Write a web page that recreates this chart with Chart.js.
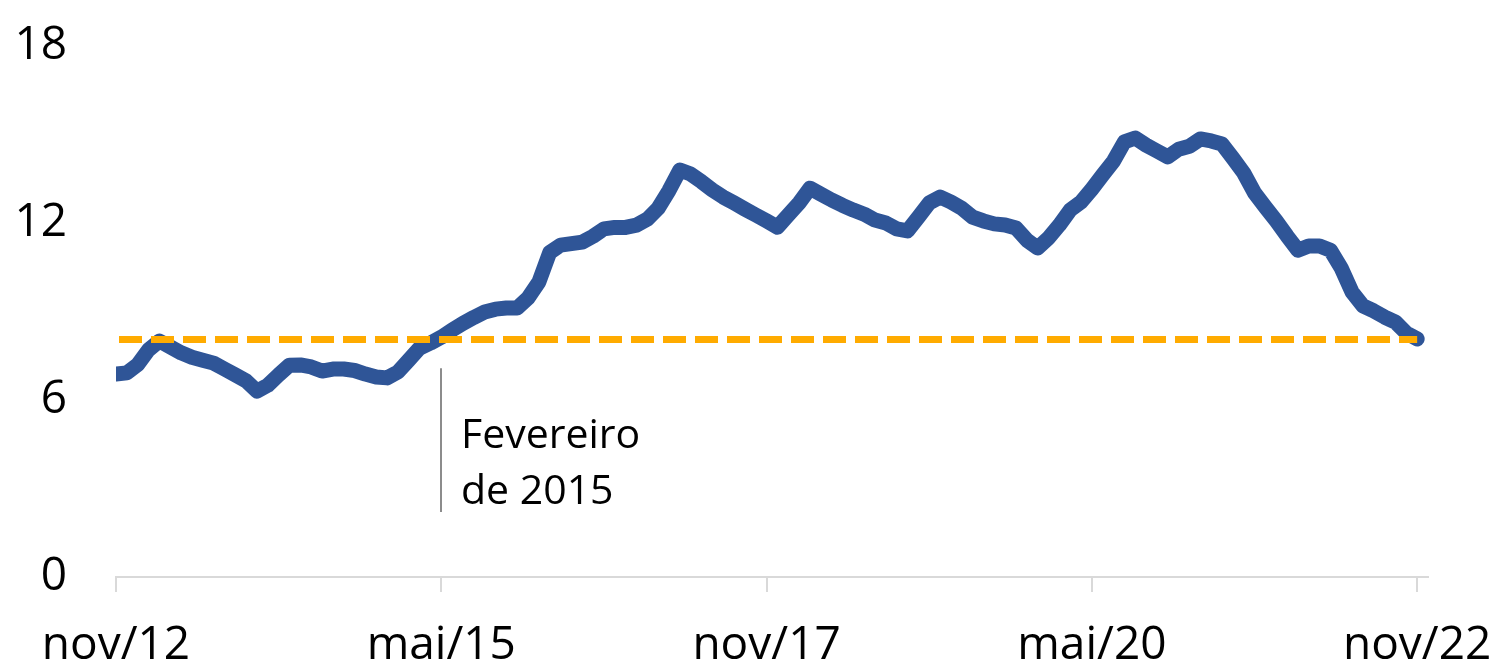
<!DOCTYPE html>
<html>
<head>
<meta charset="utf-8">
<script src="https://cdn.jsdelivr.net/npm/chart.js@4.4.1/dist/chart.umd.min.js"></script>
<style>
  html, body { margin: 0; padding: 0; background: #ffffff; }
  #wrap { width: 1497px; height: 668px; position: relative; }
</style>
</head>
<body>
<div id="wrap"><canvas id="c" width="1497" height="668"></canvas></div>
<script>
// Monthly series, nov/12 (index 0) to nov/22 (index 120)
const seriesValues = [
  6.88, 6.92, 7.2, 7.7, 8.0, 7.8, 7.6, 7.45, 7.35, 7.25,
  7.05, 6.85, 6.65, 6.3, 6.5, 6.85, 7.18, 7.19, 7.12, 6.98,
  7.05, 7.05, 7.0, 6.88, 6.78, 6.75, 6.95, 7.35, 7.76, 7.93,
  8.13, 8.37, 8.6, 8.8, 8.98, 9.08, 9.12, 9.12, 9.46, 10.0,
  11.0, 11.25, 11.3, 11.35, 11.55, 11.8, 11.85, 11.85, 11.93, 12.13,
  12.5, 13.1, 13.8, 13.66, 13.4, 13.12, 12.88, 12.68, 12.47, 12.27,
  12.07, 11.86, 12.27, 12.68, 13.18, 12.98, 12.78, 12.6, 12.44, 12.3,
  12.1, 12.0, 11.8, 11.73, 12.2, 12.68, 12.88, 12.71, 12.5, 12.2,
  12.07, 11.97, 11.93, 11.83, 11.42, 11.15, 11.49, 11.93, 12.44, 12.71,
  13.15, 13.63, 14.1, 14.75, 14.88, 14.64, 14.44, 14.24, 14.5, 14.6,
  14.85, 14.78, 14.68, 14.2, 13.7, 13.02, 12.54, 12.07, 11.56, 11.08,
  11.22, 11.22, 11.08, 10.47, 9.66, 9.19, 9.02, 8.81, 8.64, 8.27,
  8.07
];
const referenceLevel = 8.05;
const xTickLabels = ['nov/12', 'mai/15', 'nov/17', 'mai/20', 'nov/22'];
const xTickIndex = [0, 30, 60, 90, 120];
const yTicks = [0, 6, 12, 18];
const annotationIndex = 30;
const annotationRange = [2.2, 7.08];
const annotationLines = ['Fevereiro', 'de 2015'];
const annotationTextY = [4.78, 2.88];

const blueData = seriesValues.map((v, i) => ({ x: i, y: v }));
const orangeData = seriesValues.map((v, i) => ({ x: i, y: referenceLevel }));

const annotationPlugin = {
  id: 'annot',
  afterDatasetsDraw(chart) {
    const ctx = chart.ctx;
    const xs = chart.scales.x, ys = chart.scales.y;
    const px = Math.round(xs.getPixelForValue(annotationIndex));
    ctx.save();
    ctx.strokeStyle = '#8c8c8c';
    ctx.lineWidth = 2;
    ctx.beginPath();
    ctx.moveTo(px, ys.getPixelForValue(annotationRange[1]));
    ctx.lineTo(px, ys.getPixelForValue(annotationRange[0]));
    ctx.stroke();
    ctx.fillStyle = '#000000';
    ctx.font = '41px "Open Sans"';
    ctx.textAlign = 'left';
    ctx.textBaseline = 'middle';
    annotationLines.forEach((t, i) => {
      ctx.fillText(t, px + 20, ys.getPixelForValue(annotationTextY[i]));
    });
    ctx.restore();
  }
};

function zeroPad(s) {
  s.paddingLeft = 0; s.paddingRight = 0; s.paddingTop = 0; s.paddingBottom = 0;
}

new Chart(document.getElementById('c'), {
  type: 'line',
  data: {
    datasets: [
      {
        data: orangeData,
        borderColor: '#FFAB00',
        borderWidth: 7,
        borderDash: [23, 9],
        borderDashOffset: 29,
        borderCapStyle: 'butt',
        pointRadius: 0,
        tension: 0,
        order: 0
      },
      {
        data: blueData,
        borderColor: '#2F5597',
        borderWidth: 15,
        borderCapStyle: 'round',
        borderJoinStyle: 'round',
        pointRadius: 0,
        tension: 0,
        order: 1
      }
    ]
  },
  options: {
    responsive: false,
    animation: false,
    events: [],
    layout: { padding: { top: 46, right: 69, left: 0, bottom: 0 } },
    plugins: { legend: { display: false }, tooltip: { enabled: false } },
    scales: {
      x: {
        type: 'linear',
        min: 0,
        max: 121,
        afterFit(s) { s.height = 91; zeroPad(s); },
        afterBuildTicks(s) { s.ticks = xTickIndex.map(v => ({ value: v })); },
        border: { display: true, color: '#d9d9d9', width: 2 },
        grid: { display: true, drawOnChartArea: false, drawTicks: true, tickLength: 15, color: '#d9d9d9', lineWidth: 2 },
        ticks: {
          autoSkip: false,
          maxRotation: 0,
          padding: 26,
          color: '#000000',
          font: { family: 'Open Sans', size: 46 },
          callback(v) { const k = xTickIndex.indexOf(v); return k >= 0 ? xTickLabels[k] : ''; }
        }
      },
      y: {
        min: 0,
        max: 18,
        afterFit(s) { s.width = 116; zeroPad(s); },
        afterBuildTicks(s) { s.ticks = yTicks.map(v => ({ value: v })); },
        border: { display: false },
        grid: { display: false, drawTicks: false },
        ticks: {
          padding: 49,
          color: '#000000',
          font: { family: 'Open Sans', size: 46 }
        }
      }
    }
  },
  plugins: [annotationPlugin]
});
</script>
</body>
</html>
